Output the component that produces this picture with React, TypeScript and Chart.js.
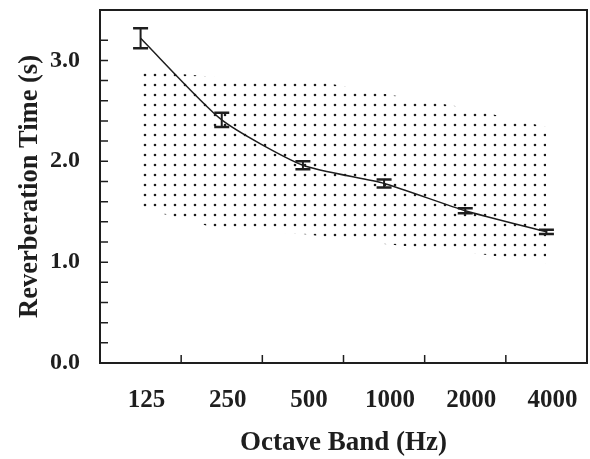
import React, { useEffect, useRef } from "react";
import { Chart, registerables } from "chart.js";

Chart.register(...registerables);

const bands = ["125", "250", "500", "1000", "2000", "4000"];
const rtMean = [3.22, 2.41, 1.96, 1.78, 1.51, 1.3];
const rtErr = [0.1, 0.07, 0.04, 0.04, 0.025, 0.02];
const rangeUpper = [2.9, 2.83, 2.82, 2.67, 2.53, 2.34];
const rangeLower = [1.54, 1.32, 1.28, 1.18, 1.1, 0.99];

const FONT = "'Liberation Serif', 'Times New Roman', serif";
const INK = "#1e1e1e";

const framePlugin = {
  id: "frame",
  afterDatasetsDraw(chart: any) {
    const { ctx, chartArea, scales } = chart;
    const xs = scales.x;
    const ys = scales.y;
    ctx.save();
    // error bars
    ctx.strokeStyle = INK;
    for (let i = 0; i < rtMean.length; i++) {
      const x = xs.getPixelForValue(i);
      const yt = ys.getPixelForValue(rtMean[i] + rtErr[i]);
      const yb = ys.getPixelForValue(rtMean[i] - rtErr[i]);
      ctx.lineWidth = 2;
      ctx.beginPath();
      ctx.moveTo(x, yt);
      ctx.lineTo(x, yb);
      ctx.stroke();
      ctx.lineWidth = 2.5;
      ctx.beginPath();
      ctx.moveTo(x - 7.5, yt);
      ctx.lineTo(x + 7.5, yt);
      ctx.moveTo(x - 7.5, yb);
      ctx.lineTo(x + 7.5, yb);
      ctx.stroke();
    }
    // frame
    ctx.lineWidth = 2;
    ctx.strokeRect(chartArea.left, chartArea.top, chartArea.right - chartArea.left, chartArea.bottom - chartArea.top);
    // inward ticks on y axis
    ctx.lineWidth = 1.5;
    ctx.beginPath();
    ys.ticks.forEach((t: any) => {
      const y = ys.getPixelForValue(t.value);
      if (y <= chartArea.top + 2 || y >= chartArea.bottom - 2) return;
      ctx.moveTo(chartArea.left, y);
      ctx.lineTo(chartArea.left + 8, y);
    });
    // inward ticks on x axis between categories
    for (let i = 1; i < bands.length; i++) {
      const x = (xs.getPixelForValue(i - 1) + xs.getPixelForValue(i)) / 2;
      ctx.moveTo(x, chartArea.bottom);
      ctx.lineTo(x, chartArea.bottom - 8);
    }
    ctx.stroke();
    ctx.restore();
  },
};

export default function App() {
  const ref = useRef<HTMLCanvasElement | null>(null);

  useEffect(() => {
    const canvas = ref.current;
    if (!canvas) return;
    const ctx = canvas.getContext("2d")!;
    const pc = document.createElement("canvas");
    pc.width = 10;
    pc.height = 10;
    const pctx = pc.getContext("2d")!;
    pctx.fillStyle = "#1a1a1a";
    pctx.beginPath();
    pctx.arc(5, 5, 1.3, 0, Math.PI * 2);
    pctx.fill();
    const pattern = ctx.createPattern(pc, "repeat");

    const chart = new Chart(ctx, {
      type: "line",
      data: {
        labels: bands,
        datasets: [
          {
            label: "upper",
            data: rangeUpper,
            borderWidth: 0,
            borderColor: "rgba(0,0,0,0)",
            pointRadius: 0,
            tension: 0,
            fill: "+1",
            backgroundColor: pattern as any,
          },
          {
            label: "lower",
            data: rangeLower,
            borderWidth: 0,
            borderColor: "rgba(0,0,0,0)",
            pointRadius: 0,
            tension: 0,
            fill: false,
          },
          {
            label: "RT",
            data: rtMean,
            borderColor: INK,
            borderWidth: 1.5,
            pointRadius: 0,
            tension: 0.2,
            fill: false,
          },
        ],
      },
      options: {
        animation: false,
        responsive: false,
        layout: { padding: { top: 10, right: 3, left: 0, bottom: 0 } },
        plugins: {
          legend: { display: false },
          tooltip: { enabled: false },
        },
        scales: {
          x: {
            type: "category",
            offset: true,
            grid: { display: false, drawTicks: false, offset: true },
            border: { display: false },
            ticks: {
              color: INK,
              padding: 23,
              labelOffset: 6,
              font: { family: FONT, size: 25, weight: "bold" },
              maxRotation: 0,
            },
            title: {
              display: true,
              text: "Octave Band (Hz)",
              color: INK,
              font: { family: FONT, size: 27, weight: "bold" },
              padding: { top: 0, bottom: 0 },
            },
            afterFit(scale: any) {
              scale.height = 96;
              scale.paddingLeft = 0;
              scale.paddingRight = 0;
            },
          },
          y: {
            min: 0,
            max: 3.5,
            grid: { display: false, drawTicks: false },
            border: { display: false },
            ticks: {
              stepSize: 0.2,
              autoSkip: false,
              color: INK,
              padding: 20,
              font: { family: FONT, size: 24, weight: "bold" },
              callback: (v: any) => {
                const n = Number(v);
                return Math.abs(n - Math.round(n)) < 1e-6 ? n.toFixed(1) : "";
              },
            },
            title: {
              display: true,
              text: "Reverberation Time (s)",
              color: INK,
              font: { family: FONT, size: 26.5, weight: "bold" },
              padding: { top: 14, bottom: 0 },
            },
            afterFit(scale: any) {
              scale.width = 100;
              scale.paddingTop = 0;
              scale.paddingBottom = 0;
            },
          },
        },
      },
      plugins: [framePlugin],
    });
    return () => chart.destroy();
  }, []);

  return (
    <div style={{ position: "fixed", left: 0, top: 0, width: 590, height: 459, background: "#fff" }}>
      <canvas ref={ref} width={590} height={459} style={{ display: "block" }} />
    </div>
  );
}
